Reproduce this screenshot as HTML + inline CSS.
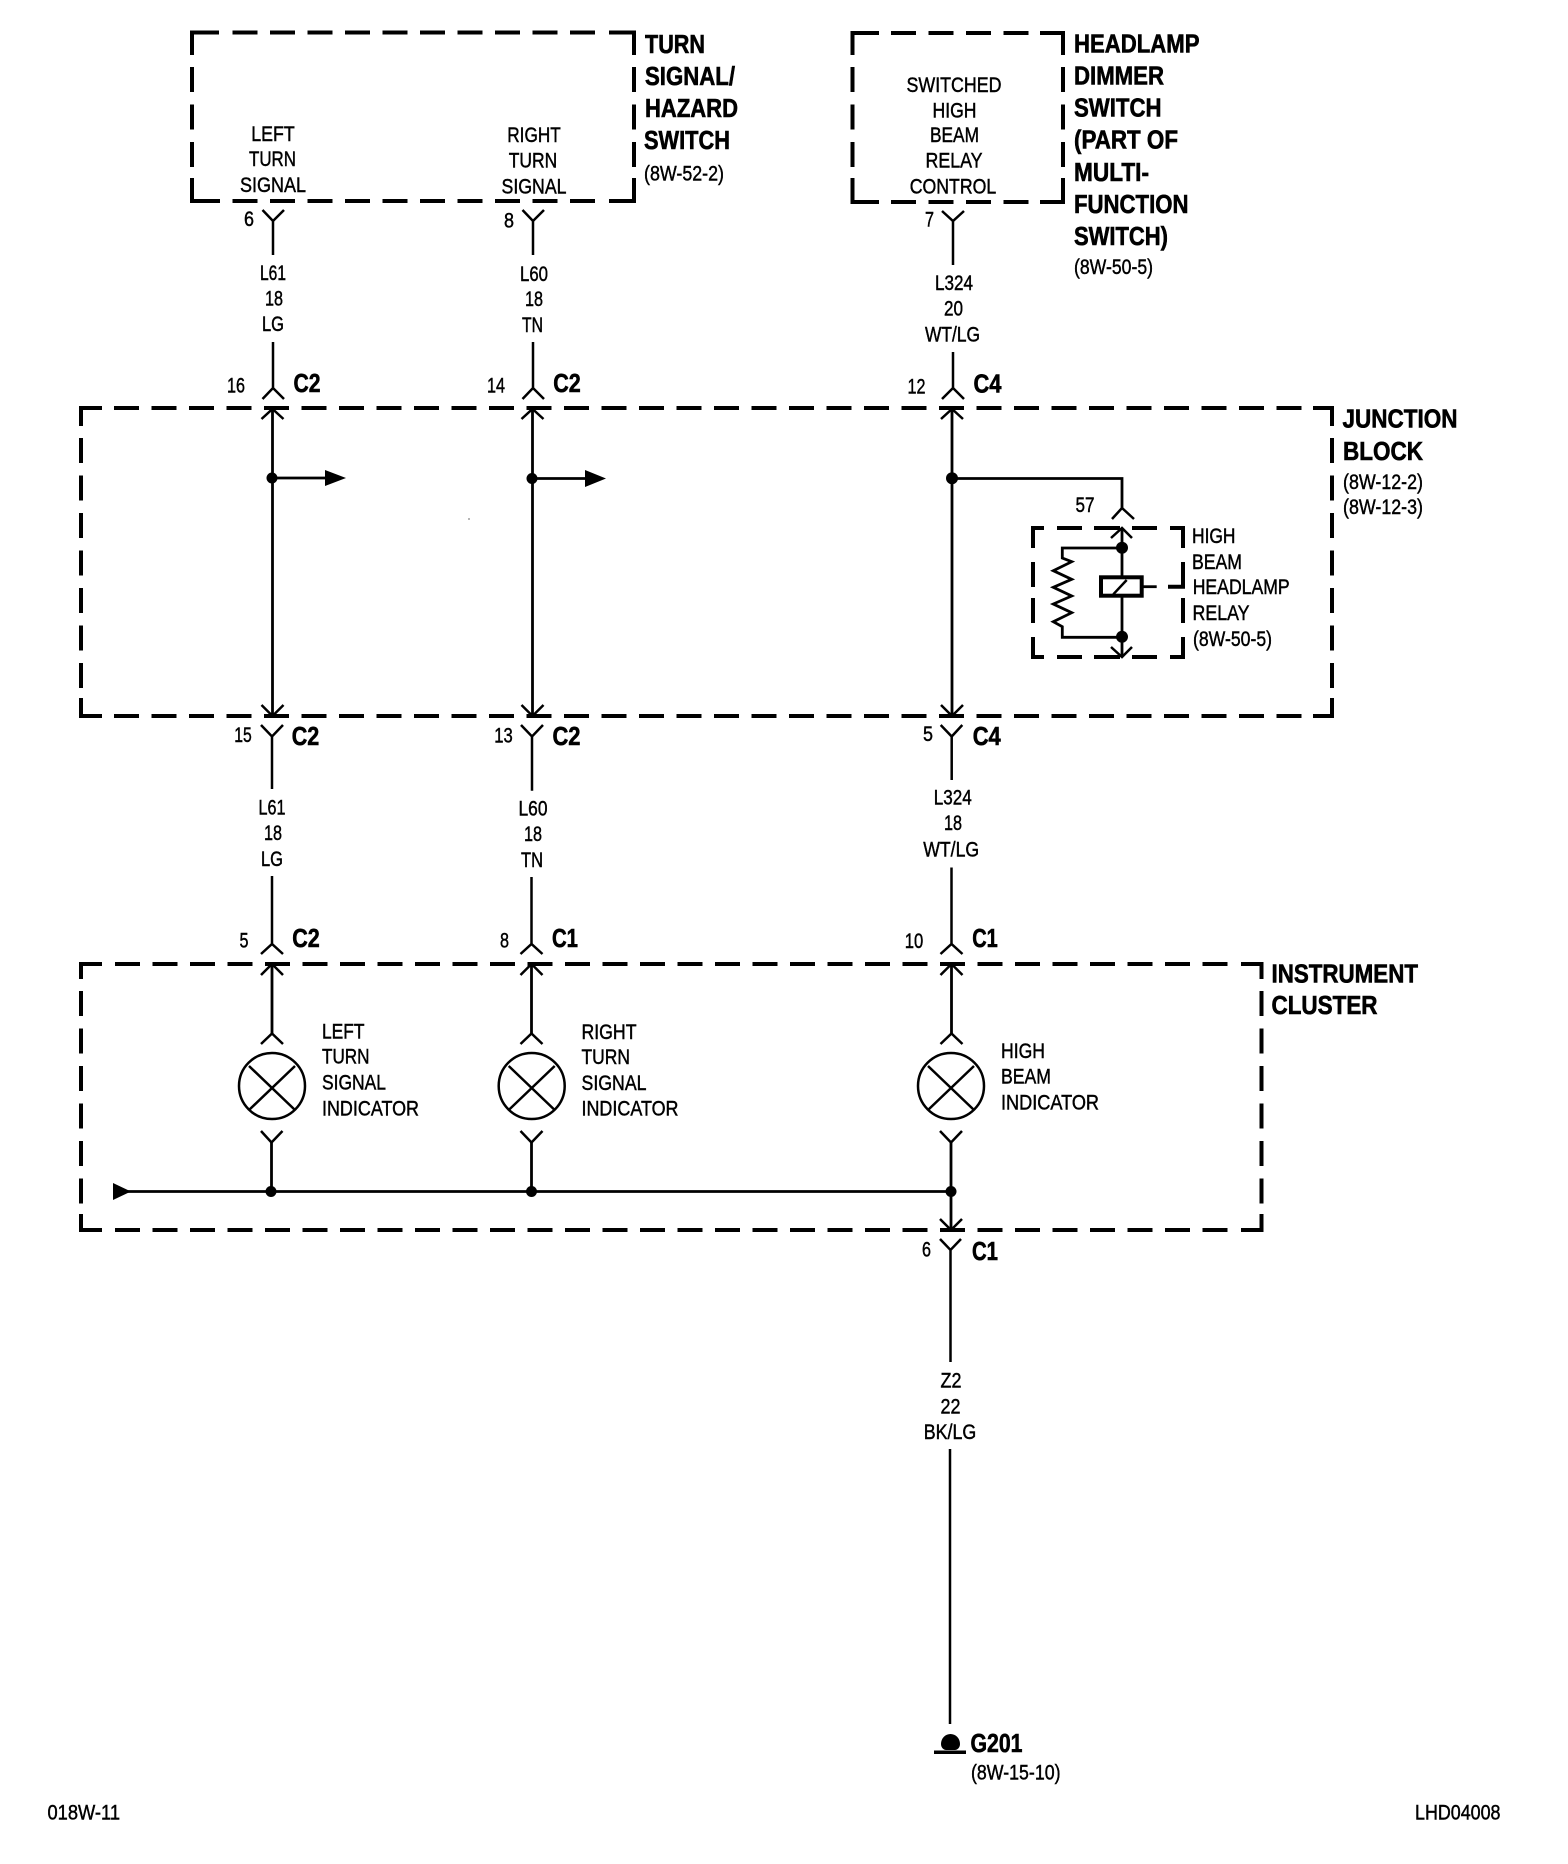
<!DOCTYPE html>
<html><head><meta charset="utf-8"><style>
html,body{margin:0;padding:0;background:#fff}
svg{display:block}
text{font-family:"Liberation Sans",sans-serif;fill:#000;stroke:#000;stroke-width:.45px;font-size:20.8px;}
text:not(.b){transform:translateY(-.7px)}
.b{font-weight:bold;font-size:25.5px;stroke-width:.6px}
.m{text-anchor:middle}
.w{fill:none;stroke:#000;stroke-width:2.8}
.t{fill:none;stroke:#000;stroke-width:2.5}
.d{fill:none;stroke:#000;stroke-width:4;stroke-dasharray:25 12.5}
.c{fill:none;stroke:#000;stroke-width:4}
.o{fill:none;stroke:#000;stroke-width:4}
</style></head><body>
<svg xmlns="http://www.w3.org/2000/svg" width="1568" height="1864" viewBox="0 0 1568 1864">
<rect width="1568" height="1864" fill="#fff"/>

<!-- Turn signal box -->
<g>
<path class="c" d="M192 55V32.5H219M609 32.5H634V55M192 178V201H220M609 201H634V178"/>
<path class="d" d="M232.5 32.5H595M232.5 201H595M192 67V167M634 67V167"/>
<!-- Headlamp box -->
<path class="c" d="M852.5 55V33H879M1040 33H1063V55M852.5 178V202H879M1040 202H1063V178"/>
<path class="d" d="M891 33H1028.5M891 202H1028.5M852.5 67V167M1063 67V167"/>
<!-- Junction block -->
<path class="c" d="M81 426V408H102M1313 408H1332V426M81 698V716H102M1313 716H1332V698"/>
<path class="d" d="M114 408H1301.5M114 716H1301.5M81 438V688M1332 438V688"/>
<!-- Instrument cluster -->
<path class="c" d="M81 979V964H102M1241 964H1261.5V979M81 1214V1230H102M1241 1230H1261.5V1214"/>
<path class="d" d="M115 964H1227.5M115 1230H1227.5M81 991V1203.5M1261.5 991V1203.5"/>
<!-- Relay box -->
<path class="c" d="M1033 548V528H1044M1170 528H1183V548M1033 637V657H1044M1170 657H1183V637"/>
<path class="o" d="M1057 528H1082M1094 528H1120M1132 528H1157M1057 657H1082M1094 657H1120M1132 657H1157M1033 562V587M1033 598V623M1183 562V586.7H1168M1183 598V623"/>
</g>

<!-- Top wires -->
<g class="t">
<path class="t" d="M262.5 210L273 221L284 210M273 221V255M273 342V388M262.5 399L273 388L284 399"/>
<path class="t" d="M522.5 210L533 221L544 210M533 221V255M533 342V388M522.5 399L533 388L544 399"/>
<path class="t" d="M942 211L953 221L964 211M953 221V265M953 352V388M942 399L953 388L964 399"/>
</g>
<!-- Inside junction -->
<path class="w" d="M272.5 409V716M532.5 409V716M952 409V716"/>
<path class="t" d="M261.5 419L272.5 409L283.5 419M521.5 419L532.5 409L543.5 419M941 419L952 409L963 419"/>
<path class="t" d="M261.5 705L272.5 716L283.5 705M521.5 705L532.5 716L543.5 705M941 705L952 716L963 705"/>
<circle cx="272" cy="478" r="5.5"/><circle cx="532" cy="478.5" r="5.5"/><circle cx="952" cy="478.3" r="6"/>
<path class="w" d="M272 478H326M532 478.5H586"/>
<path d="M325 470L346 478L325 486ZM585 470L606 478.5L585 487Z"/>
<circle cx="469" cy="519" r=".6"/>
<!-- relay -->
<path class="w" d="M952 478.5H1122V508"/>
<path class="t" d="M1112 519L1122 508L1134 519M1111 538L1122 528L1132 538M1111 647L1122 657L1132 647"/>
<path class="w" d="M1122 528V657"/>
<circle cx="1122" cy="547.7" r="6"/><circle cx="1122" cy="636.7" r="6"/>
<path class="w" d="M1122 548H1062.3V558L1071.7 561.7L1053.3 570.7L1071.7 579.3L1053.3 587.3L1071.7 596L1053.3 604L1071.7 612.7L1053.3 621.7L1062.3 626.7V637.3H1122"/>
<rect x="1101" y="577.3" width="40.7" height="18.4" fill="#fff" stroke="#000" stroke-width="4"/>
<path class="t" d="M1113.3 594.3L1126.7 580"/>
<path class="w" d="M1141.7 586.7H1156.7"/>

<!-- Middle wires -->
<path class="t" d="M261 725L272 736.5L283 725M272 736V789M272 876V944M261 954L272 944L283 954"/>
<path class="t" d="M521 725L532 736.5L543 725M532 736V790.7M531.5 877V944M520.5 954L531.5 944L542.5 954"/>
<path class="t" d="M940.7 725L951.7 736.5L962.3 725M951.7 736V780M951.5 867.5V944M940.5 954L951.5 944L962.5 954"/>
<!-- Cluster -->
<path class="w" d="M272 964V1034M531.5 964V1034M951.5 964V1034"/>
<path class="t" d="M261 975L272 964L283 975M520.5 975L531.5 964L542.5 975M940.5 975L951.5 964L962.5 975"/>
<path class="t" d="M261 1044L272 1033.5L283 1044M520.5 1044L531.5 1033.5L542.5 1044M940.5 1044L951.5 1033.5L962.5 1044"/>
<g class="t">
<circle class="t" cx="272" cy="1086" r="33"/><path class="t" d="M249 1066L295 1110M295 1066L249 1110"/>
<circle class="t" cx="531.7" cy="1086" r="33"/><path class="t" d="M508.7 1066L554.7 1110M554.7 1066L508.7 1110"/>
<circle class="t" cx="951" cy="1086" r="33"/><path class="t" d="M928 1066L974 1110M974 1066L928 1110"/>
</g>
<path class="t" d="M261 1131L271.5 1142.5L282.5 1131M520.5 1131L531.5 1142.5L542.5 1131M940 1131L951 1142.5L962 1131"/>
<path class="w" d="M271.5 1142V1191M531.5 1142V1191M951 1142V1230M125 1191.5H951"/>
<path d="M113 1183L131 1191.5L113 1200Z"/>
<circle cx="271" cy="1191.5" r="5.5"/><circle cx="531.5" cy="1191.5" r="5.5"/><circle cx="951" cy="1191.5" r="5.5"/>
<path class="t" d="M940 1219L951 1230L962 1219"/>
<path class="t" d="M940 1239L950.5 1250L961 1239M950.5 1250V1362M950 1449V1724"/>
<!-- Ground -->
<path d="M941 1744A9.5 10 0 0 1 960 1744C960 1748 957 1750 955 1750H946C944 1750 941 1748 941 1744Z"/>
<path d="M934 1750.5H966V1754H934Z"/>

<!-- Text: Turn signal box -->
<text class="b" x="645" y="53" textLength="60" lengthAdjust="spacingAndGlyphs">TURN</text>
<text class="b" x="645" y="85" textLength="90" lengthAdjust="spacingAndGlyphs">SIGNAL/</text>
<text class="b" x="645" y="117" textLength="93" lengthAdjust="spacingAndGlyphs">HAZARD</text>
<text class="b" x="644" y="149" textLength="86" lengthAdjust="spacingAndGlyphs">SWITCH</text>
<text x="644" y="181" textLength="80" lengthAdjust="spacingAndGlyphs">(8W-52-2)</text>
<text class="m" x="273" y="141.5" textLength="43.5" lengthAdjust="spacingAndGlyphs">LEFT</text>
<text class="m" x="272.5" y="166.7" textLength="47" lengthAdjust="spacingAndGlyphs">TURN</text>
<text class="m" x="273" y="192.7" textLength="66" lengthAdjust="spacingAndGlyphs">SIGNAL</text>
<text class="m" x="534" y="142.7" textLength="53.5" lengthAdjust="spacingAndGlyphs">RIGHT</text>
<text class="m" x="533" y="168" textLength="48.5" lengthAdjust="spacingAndGlyphs">TURN</text>
<text class="m" x="534" y="194" textLength="65" lengthAdjust="spacingAndGlyphs">SIGNAL</text>
<text class="m" x="249" y="226.7" textLength="10" lengthAdjust="spacingAndGlyphs">6</text>
<text class="m" x="509" y="228" textLength="10" lengthAdjust="spacingAndGlyphs">8</text>
<text class="m" x="273" y="280.7" textLength="26" lengthAdjust="spacingAndGlyphs">L61</text>
<text class="m" x="274" y="306" textLength="18" lengthAdjust="spacingAndGlyphs">18</text>
<text class="m" x="273" y="331.7" textLength="22" lengthAdjust="spacingAndGlyphs">LG</text>
<text class="m" x="534" y="281.7" textLength="28" lengthAdjust="spacingAndGlyphs">L60</text>
<text class="m" x="534" y="306.7" textLength="18" lengthAdjust="spacingAndGlyphs">18</text>
<text class="m" x="532.5" y="332.7" textLength="21" lengthAdjust="spacingAndGlyphs">TN</text>
<text class="m" x="236" y="393.3" textLength="18" lengthAdjust="spacingAndGlyphs">16</text>
<text class="b m" x="307" y="392" textLength="27" lengthAdjust="spacingAndGlyphs">C2</text>
<text class="m" x="496" y="393" textLength="18" lengthAdjust="spacingAndGlyphs">14</text>
<text class="b m" x="567" y="392" textLength="27.5" lengthAdjust="spacingAndGlyphs">C2</text>

<!-- Headlamp -->
<text class="m" x="954" y="92.7" textLength="95" lengthAdjust="spacingAndGlyphs">SWITCHED</text>
<text class="m" x="954.5" y="118" textLength="44" lengthAdjust="spacingAndGlyphs">HIGH</text>
<text class="m" x="954.5" y="142.7" textLength="49" lengthAdjust="spacingAndGlyphs">BEAM</text>
<text class="m" x="954" y="168.3" textLength="57" lengthAdjust="spacingAndGlyphs">RELAY</text>
<text class="m" x="953" y="194" textLength="86.5" lengthAdjust="spacingAndGlyphs">CONTROL</text>
<text class="m" x="929.5" y="227" textLength="9" lengthAdjust="spacingAndGlyphs">7</text>
<text class="m" x="954" y="290.7" textLength="38" lengthAdjust="spacingAndGlyphs">L324</text>
<text class="m" x="953.5" y="316" textLength="19" lengthAdjust="spacingAndGlyphs">20</text>
<text class="m" x="952.5" y="342" textLength="55" lengthAdjust="spacingAndGlyphs">WT/LG</text>
<text class="m" x="916.5" y="394" textLength="18" lengthAdjust="spacingAndGlyphs">12</text>
<text class="b m" x="987.5" y="392.7" textLength="28" lengthAdjust="spacingAndGlyphs">C4</text>
<text class="b" x="1074" y="52.7" textLength="125.5" lengthAdjust="spacingAndGlyphs">HEADLAMP</text>
<text class="b" x="1074" y="84.7" textLength="90" lengthAdjust="spacingAndGlyphs">DIMMER</text>
<text class="b" x="1074" y="116.7" textLength="87.5" lengthAdjust="spacingAndGlyphs">SWITCH</text>
<text class="b" x="1074" y="148.5" textLength="104" lengthAdjust="spacingAndGlyphs">(PART OF</text>
<text class="b" x="1074" y="181" textLength="75" lengthAdjust="spacingAndGlyphs">MULTI-</text>
<text class="b" x="1074" y="213" textLength="114.5" lengthAdjust="spacingAndGlyphs">FUNCTION</text>
<text class="b" x="1074" y="245" textLength="94" lengthAdjust="spacingAndGlyphs">SWITCH)</text>
<text x="1074" y="274.5" textLength="79" lengthAdjust="spacingAndGlyphs">(8W-50-5)</text>

<!-- Junction labels -->
<text class="b" x="1342.5" y="427.7" textLength="115" lengthAdjust="spacingAndGlyphs">JUNCTION</text>
<text class="b" x="1343" y="460" textLength="80" lengthAdjust="spacingAndGlyphs">BLOCK</text>
<text x="1343" y="489.5" textLength="80" lengthAdjust="spacingAndGlyphs">(8W-12-2)</text>
<text x="1343" y="514.5" textLength="80" lengthAdjust="spacingAndGlyphs">(8W-12-3)</text>
<text class="m" x="1085" y="512.5" textLength="19" lengthAdjust="spacingAndGlyphs">57</text>
<text x="1192" y="543.5" textLength="43.5" lengthAdjust="spacingAndGlyphs">HIGH</text>
<text x="1192" y="569.5" textLength="50" lengthAdjust="spacingAndGlyphs">BEAM</text>
<text x="1192.7" y="594.5" textLength="97" lengthAdjust="spacingAndGlyphs">HEADLAMP</text>
<text x="1192.5" y="620.5" textLength="57" lengthAdjust="spacingAndGlyphs">RELAY</text>
<text x="1193" y="646.5" textLength="79" lengthAdjust="spacingAndGlyphs">(8W-50-5)</text>

<!-- Under junction -->
<text class="m" x="243" y="742.5" textLength="17.5" lengthAdjust="spacingAndGlyphs">15</text>
<text class="b m" x="305.5" y="745" textLength="27.5" lengthAdjust="spacingAndGlyphs">C2</text>
<text class="m" x="503.5" y="743" textLength="18.5" lengthAdjust="spacingAndGlyphs">13</text>
<text class="b m" x="566.5" y="745" textLength="28" lengthAdjust="spacingAndGlyphs">C2</text>
<text class="m" x="928" y="741.7" textLength="10" lengthAdjust="spacingAndGlyphs">5</text>
<text class="b m" x="986.7" y="745" textLength="28" lengthAdjust="spacingAndGlyphs">C4</text>
<text class="m" x="272" y="815" textLength="27" lengthAdjust="spacingAndGlyphs">L61</text>
<text class="m" x="273" y="840.7" textLength="18" lengthAdjust="spacingAndGlyphs">18</text>
<text class="m" x="272" y="866.8" textLength="22" lengthAdjust="spacingAndGlyphs">LG</text>
<text class="m" x="533" y="816.4" textLength="29" lengthAdjust="spacingAndGlyphs">L60</text>
<text class="m" x="533" y="841.8" textLength="18" lengthAdjust="spacingAndGlyphs">18</text>
<text class="m" x="532" y="867.5" textLength="22" lengthAdjust="spacingAndGlyphs">TN</text>
<text class="m" x="952.7" y="805" textLength="38" lengthAdjust="spacingAndGlyphs">L324</text>
<text class="m" x="953" y="830.5" textLength="18" lengthAdjust="spacingAndGlyphs">18</text>
<text class="m" x="951.2" y="857" textLength="56" lengthAdjust="spacingAndGlyphs">WT/LG</text>
<text class="m" x="244" y="948" textLength="9" lengthAdjust="spacingAndGlyphs">5</text>
<text class="b m" x="306" y="947" textLength="27.5" lengthAdjust="spacingAndGlyphs">C2</text>
<text class="m" x="504.5" y="948" textLength="9" lengthAdjust="spacingAndGlyphs">8</text>
<text class="b m" x="565" y="947" textLength="26" lengthAdjust="spacingAndGlyphs">C1</text>
<text class="m" x="914" y="948.6" textLength="18.5" lengthAdjust="spacingAndGlyphs">10</text>
<text class="b m" x="985" y="947" textLength="25.5" lengthAdjust="spacingAndGlyphs">C1</text>

<!-- Cluster labels -->
<text class="b" x="1271.5" y="982.5" textLength="146.5" lengthAdjust="spacingAndGlyphs">INSTRUMENT</text>
<text class="b" x="1271.5" y="1014" textLength="106" lengthAdjust="spacingAndGlyphs">CLUSTER</text>
<text x="322" y="1039" textLength="42.5" lengthAdjust="spacingAndGlyphs">LEFT</text>
<text x="322" y="1064" textLength="47.5" lengthAdjust="spacingAndGlyphs">TURN</text>
<text x="322" y="1090" textLength="64" lengthAdjust="spacingAndGlyphs">SIGNAL</text>
<text x="322" y="1116" textLength="97" lengthAdjust="spacingAndGlyphs">INDICATOR</text>
<text x="581.5" y="1039.6" textLength="55" lengthAdjust="spacingAndGlyphs">RIGHT</text>
<text x="581.5" y="1064.6" textLength="48.5" lengthAdjust="spacingAndGlyphs">TURN</text>
<text x="581.5" y="1090.6" textLength="65" lengthAdjust="spacingAndGlyphs">SIGNAL</text>
<text x="581.5" y="1116" textLength="97" lengthAdjust="spacingAndGlyphs">INDICATOR</text>
<text x="1001" y="1058.6" textLength="44" lengthAdjust="spacingAndGlyphs">HIGH</text>
<text x="1001" y="1084.3" textLength="50" lengthAdjust="spacingAndGlyphs">BEAM</text>
<text x="1001" y="1110" textLength="98" lengthAdjust="spacingAndGlyphs">INDICATOR</text>

<!-- Below cluster -->
<text class="m" x="926.5" y="1257" textLength="9" lengthAdjust="spacingAndGlyphs">6</text>
<text class="b m" x="985" y="1260" textLength="26" lengthAdjust="spacingAndGlyphs">C1</text>
<text class="m" x="951" y="1388" textLength="21" lengthAdjust="spacingAndGlyphs">Z2</text>
<text class="m" x="950.5" y="1414" textLength="20" lengthAdjust="spacingAndGlyphs">22</text>
<text class="m" x="950" y="1439.6" textLength="52.5" lengthAdjust="spacingAndGlyphs">BK/LG</text>
<text class="b" x="970.5" y="1752" textLength="52" lengthAdjust="spacingAndGlyphs">G201</text>
<text x="971" y="1780" textLength="89.5" lengthAdjust="spacingAndGlyphs">(8W-15-10)</text>
<text x="1415" y="1820" textLength="85.5" lengthAdjust="spacingAndGlyphs">LHD04008</text>
<text x="47.5" y="1820" textLength="72.5" lengthAdjust="spacingAndGlyphs">018W-11</text>
</svg>
</body></html>
